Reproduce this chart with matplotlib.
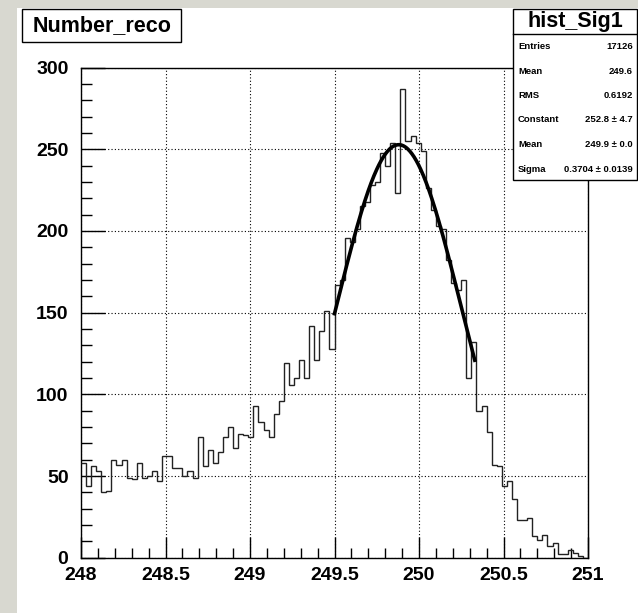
import numpy as np
import matplotlib
matplotlib.use("Agg")
import matplotlib.pyplot as plt
from matplotlib.patches import Rectangle
from matplotlib.lines import Line2D
from matplotlib.ticker import MultipleLocator

plt.rcParams['font.family'] = ['Liberation Sans', 'DejaVu Sans']
plt.rcParams['font.weight'] = 'bold'

# histogram: 100 bins from 248 to 251
x_min, x_max, n_bins = 248.0, 251.0, 100
counts = [58, 44, 56, 53, 40, 41, 60, 57, 60, 49,
          48, 58, 49, 50, 53, 47, 62, 62, 55, 55,
          50, 53, 49, 74, 56, 66, 58, 65, 74, 80,
          67, 76, 75, 74, 93, 83, 78, 74, 88, 96,
          119, 106, 110, 121, 110, 142, 121, 139, 151, 128,
          167, 170, 196, 193, 201, 215, 218, 228, 230, 248,
          240, 254, 223, 287, 255, 258, 254, 249, 226, 213,
          203, 201, 182, 168, 164, 170, 110, 132, 90, 93,
          77, 57, 56, 44, 47, 36, 23, 23, 24, 13,
          11, 14, 7, 9, 2, 2, 5, 3, 1, 0]

# gaussian fit result (from stats box)
fit_const = 252.8
fit_mean = 249.88
fit_sigma = 0.3704
fit_lo, fit_hi = 249.5, 250.33

stat_names = ["Entries", "Mean", "RMS", "Constant", "Mean", "Sigma"]
stat_values = ["17126", "249.6", "0.6192", "252.8 \u00b1 4.7", "249.9 \u00b1 0.0", "0.3704 \u00b1 0.0139"]

W, H = 638, 613
fig = plt.figure(figsize=(W / 100, H / 100), dpi=100)
fig.patch.set_facecolor('#d8d8d0')
# white canvas
fig.add_artist(Rectangle((17 / W, 0), 1 - 17 / W, 1 - 8 / H, transform=fig.transFigure,
                         facecolor='white', edgecolor='none', zorder=0))

ax = fig.add_axes([81 / W, 1 - 557.7 / H, (588 - 81) / W, (557.7 - 67.6) / H])
ax.set_facecolor('white')

edges = np.linspace(x_min, x_max, n_bins + 1)
ax.stairs(counts, edges, baseline=None, color='#222222', lw=1.0, zorder=3)

xf = np.linspace(fit_lo, fit_hi, 200)
yf = fit_const * np.exp(-0.5 * ((xf - fit_mean) / fit_sigma) ** 2)
ax.plot(xf, yf, color='black', lw=2.6, zorder=4)

ax.set_xlim(x_min, x_max)
ax.set_ylim(0, 300)
ax.xaxis.set_major_locator(MultipleLocator(0.5))
ax.xaxis.set_minor_locator(MultipleLocator(0.1))
ax.yaxis.set_major_locator(MultipleLocator(50))
ax.yaxis.set_minor_locator(MultipleLocator(10))
ax.set_xticks(np.arange(248, 251.01, 0.5))
ax.set_xticklabels(["248", "248.5", "249", "249.5", "250", "250.5", "251"])

ax.tick_params(axis='both', which='both', direction='in', top=False, right=False,
               color='black', width=1.0, labelsize=14)
ax.tick_params(axis='y', which='major', length=17, pad=9)
ax.tick_params(axis='y', which='minor', length=8)
ax.tick_params(axis='x', which='major', length=15, pad=7)
ax.tick_params(axis='x', which='minor', length=7)
for lab in ax.get_xticklabels() + ax.get_yticklabels():
    lab.set_fontweight('bold')

ax.grid(True, which='major', linestyle=(0, (1, 2)), color='black', lw=0.8)
ax.set_axisbelow(True)
for s in ax.spines.values():
    s.set_color('black')
    s.set_linewidth(1.0)

# title box
fig.add_artist(Rectangle((22 / W, 1 - 42 / H), (181 - 22) / W, (42 - 9) / H,
                         transform=fig.transFigure, facecolor='white',
                         edgecolor='black', lw=1.0, zorder=5))
fig.text(102 / W, 1 - 25.5 / H, "Number_reco", fontsize=15.5, fontweight='bold',
         ha='center', va='center', zorder=6)

# stats box
bx0, bx1, by0, by1 = 513, 637, 9, 180
fig.add_artist(Rectangle((bx0 / W, 1 - by1 / H), (bx1 - bx0) / W, (by1 - by0) / H,
                         transform=fig.transFigure, facecolor='white',
                         edgecolor='black', lw=1.0, zorder=5))
fig.add_artist(Line2D([bx0 / W, bx1 / W], [1 - 33.5 / H, 1 - 33.5 / H],
                      transform=fig.transFigure, color='black', lw=1.0, zorder=6))
fig.text((bx0 + bx1) / 2 / W, 1 - 21 / H, "hist_Sig1", fontsize=15.5, fontweight='bold',
         ha='center', va='center', zorder=6)
row_y = [46.7, 71, 95.7, 119.5, 144.3, 170]
for name, val, yy in zip(stat_names, stat_values, row_y):
    fig.text(518 / W, 1 - yy / H, name, fontsize=6.8, fontweight='bold',
             ha='left', va='center', zorder=6)
    fig.text(633 / W, 1 - yy / H, val, fontsize=6.8, fontweight='bold',
             ha='right', va='center', zorder=6)

fig.savefig("out.png", dpi=100)
